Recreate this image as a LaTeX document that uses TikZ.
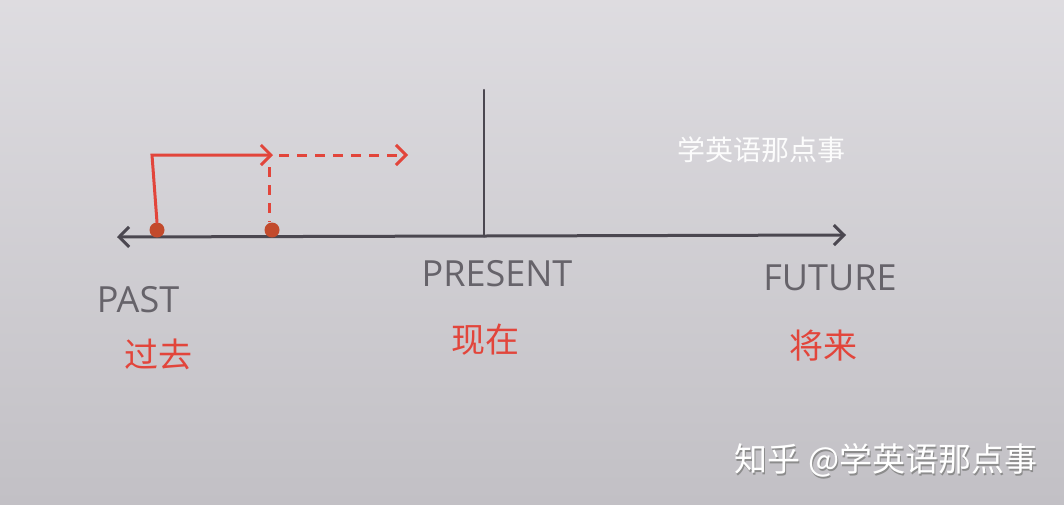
\documentclass[tikz,border=0pt]{standalone}
\usepackage{fontspec}
\setmainfont{Open Sans}
\newfontfamily\cjk{Noto Sans CJK SC}
\usetikzlibrary{arrows.meta}
\definecolor{paper}{HTML}{D8D6DB}
\definecolor{paperdark}{HTML}{C2C0C5}
\definecolor{pencil}{HTML}{4B4750}
\definecolor{redpen}{HTML}{E2453B}
\definecolor{dotred}{HTML}{C24A2C}
\tikzset{
  axis/.style={draw=pencil, line width=3pt, line cap=round},
  redline/.style={draw=redpen, line width=3pt, line cap=round},
  reddash/.style={redline, dash pattern=on 10pt off 8pt, line cap=butt},
  barb/.style={-{Straight Barb[length=10pt,width=20pt,line width=3pt]}},
  engl/.style={text=pencil!85, font=\fontsize{36}{36}\selectfont},
  chin/.style={text=redpen, font=\cjk\fontsize{34}{34}\selectfont},
  dot/.style={circle, fill=dotred, minimum size=15pt, inner sep=0pt},
  wmark/.style={font=\cjk\fontsize{33}{33}\selectfont},
}
\begin{document}
\begin{tikzpicture}[x=1pt,y=-1pt]
\shade[top color=paper!85!white, bottom color=paperdark] (0,0) rectangle (1064,504);
\useasboundingbox (0,0) rectangle (1064,504);
% axis
\coordinate (L) at (117,237);
\coordinate (R) at (846,235);
\coordinate (vt) at (484,90);
\coordinate (vb) at (484,236);
\draw[axis, -{Straight Barb[length=10pt,width=20pt,line width=3pt]}] (vb) -- (R);
\draw[axis, -{Straight Barb[length=10pt,width=20pt,line width=3pt]}] (vb) -- (L);
\draw[axis, line width=2.4pt] (vt) -- (vb);
% red arrows
\node[dot] (d1) at (157,230) {};
\node[dot] (d2) at (272,230) {};
\coordinate (c1) at (152,155);
\coordinate (c2) at (273,155);
\coordinate (c3) at (408,155);
\coordinate (c4) at (269,167);
\draw[redline, barb] (d1.north) -- (c1) -- (c2);
\draw[reddash, barb] ([xshift=6pt]c2) -- (c3);
\draw[reddash] (c4) -- (d2.north -| c4);
% labels
\node[engl] (past) at (138,300) {PAST};
\node[chin] (guoqu) at (158,354) {过去};
\node[engl] (present) at (497,274) {PRESENT};
\node[chin] (xianzai) at (485,340) {现在};
\node[engl] (future) at (830,278) {FUTURE};
\node[chin] (jianglai) at (823,346) {将来};
% watermarks
\node[text=white!92!paper, font=\cjk\fontsize{28}{28}\selectfont] (wm) at (761,150) {学英语那点事};
\node[text=black!45, wmark] (zhs) at (887,462) {知乎 @学英语那点事};
\node[text=white, wmark] (zh) at (886,460) {知乎 @学英语那点事};
\end{tikzpicture}
\end{document}
